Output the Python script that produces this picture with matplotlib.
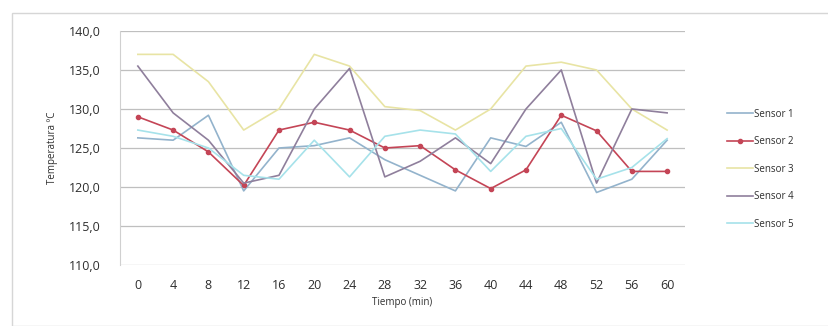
import matplotlib
matplotlib.use("Agg")
import matplotlib.pyplot as plt
from matplotlib.patches import Rectangle

plt.rcParams['font.family'] = ['Open Sans', 'DejaVu Sans']

tiempo = [0, 4, 8, 12, 16, 20, 24, 28, 32, 36, 40, 44, 48, 52, 56, 60]

sensor1 = [126.3, 126.0, 129.2, 119.5, 125.0, 125.3, 126.3, 123.5,
           121.5, 119.5, 126.3, 125.2, 128.3, 119.3, 121.0, 126.0]
sensor2 = [129.0, 127.3, 124.5, 120.2, 127.3, 128.3, 127.3, 125.0,
           125.3, 122.2, 119.8, 122.2, 129.2, 127.2, 122.0, 122.0]
sensor3 = [137.0, 137.0, 133.5, 127.3, 130.0, 137.0, 135.5, 130.3,
           129.8, 127.3, 130.0, 135.5, 136.0, 135.0, 130.0, 127.3]
sensor4 = [135.5, 129.5, 126.0, 120.5, 121.5, 130.0, 135.2, 121.3,
           123.3, 126.3, 123.0, 130.0, 135.0, 120.5, 130.0, 129.5]
sensor5 = [127.3, 126.5, 125.0, 121.5, 121.0, 126.0, 121.3, 126.5,
           127.3, 126.8, 122.0, 126.5, 127.5, 121.0, 122.5, 126.2]

series = [
    ("Sensor 1", sensor1, "#93b3cc", None),
    ("Sensor 2", sensor2, "#c44556", "o"),
    ("Sensor 3", sensor3, "#e8e4a4", None),
    ("Sensor 4", sensor4, "#8f7f9c", None),
    ("Sensor 5", sensor5, "#a6e2ea", None),
]

yticks = [110, 115, 120, 125, 130, 135, 140]

fig = plt.figure(figsize=(8.29, 3.26), dpi=100)
fig.patch.set_facecolor("white")
fig.patches.append(Rectangle((0.015, 0.0), 0.985, 0.96, transform=fig.transFigure,
                             fill=False, edgecolor="#d6d6d6", linewidth=1.0))

ax = fig.add_axes([0.145, 0.187, 0.681, 0.718])
pos = list(range(len(tiempo)))
for name, vals, col, mk in series:
    ax.plot(pos, vals, color=col, linewidth=1.2, marker=mk, markersize=3,
            label=name)

ax.set_xlim(-0.5, len(tiempo) - 0.5)
ax.set_ylim(110, 140)
ax.set_yticks(yticks)
ax.set_yticklabels([("%.1f" % v).replace(".", ",") for v in yticks])
ax.set_xticks(pos)
ax.set_xticklabels([str(t) for t in tiempo])
ax.yaxis.grid(True, color="#bfbfbf", linewidth=0.9)
ax.set_axisbelow(True)
for s in ["top", "right", "bottom"]:
    ax.spines[s].set_visible(False)
ax.spines["left"].set_color("#d0d0d0")
ax.tick_params(axis="both", length=0, labelsize=9, colors="#2e2e2e")
ax.tick_params(axis="x", pad=10)
ax.tick_params(axis="y", pad=14)
ax.set_xlabel("Tiempo (min)", fontsize=7, color="#2e2e2e", labelpad=4)
ax.set_ylabel("Temperatura ºC", fontsize=7, color="#2e2e2e", labelpad=8)

ax.legend(loc="center left", bbox_to_anchor=(1.06, 0.41), frameon=False,
          fontsize=7, labelspacing=1.7, handlelength=2.6, handletextpad=0.1,
          labelcolor="#2e2e2e")

fig.savefig("out.png", dpi=100)
